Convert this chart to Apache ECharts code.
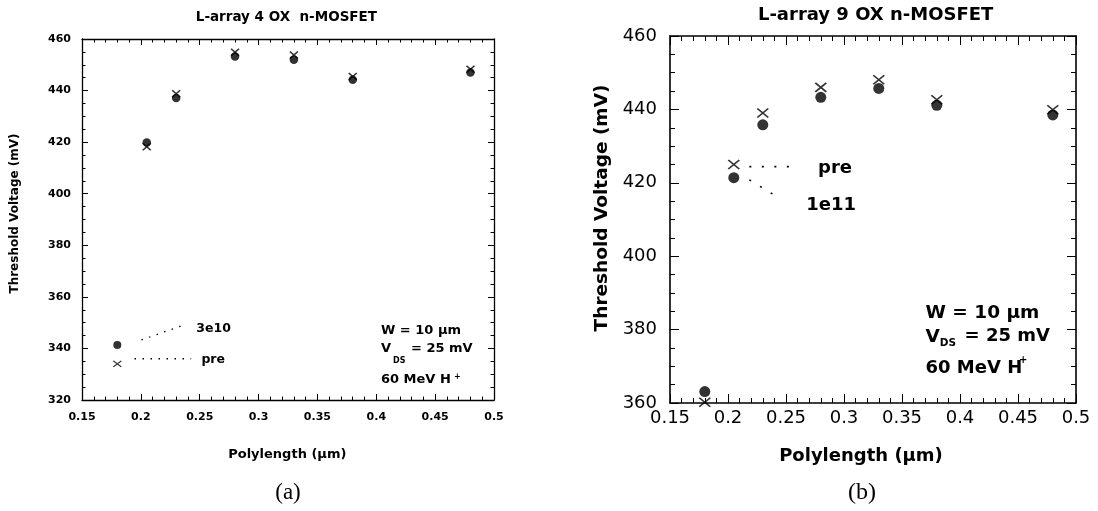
<!DOCTYPE html>
<html>
<head>
<meta charset="utf-8">
<script src="https://cdn.jsdelivr.net/npm/echarts@6/dist/echarts.min.js"></script>
<style>html,body{margin:0;padding:0;background:#fff;}#c{width:1098px;height:511px;}</style>
</head>
<body>
<div id="c"></div>
<script>
// ---- data ----
const xTicks = [0.15, 0.2, 0.25, 0.3, 0.35, 0.4, 0.45, 0.5];
const leftYTicks = [320, 340, 360, 380, 400, 420, 440, 460];
const rightYTicks = [360, 380, 400, 420, 440, 460];

const leftX = [0.205, 0.23, 0.28, 0.33, 0.38, 0.48];
const leftPre = [418.2, 438.8, 454.9, 453.8, 445.5, 448.3];
const left3e10 = [419.9, 437.1, 453.2, 452.0, 444.2, 447.0];
// legend markers drawn inside the left plot
const leftLegendDot = [[0.18, 341.3]];
const leftLegendCross = [[0.18, 334.0]];
const leftLead3e10 = [[0.2005, 343.3], [0.234, 348.7]];
const leftLeadPre = [[0.1946, 336.0], [0.2427, 336.0]];

const rightX = [0.18, 0.205, 0.23, 0.28, 0.33, 0.38, 0.48];
const rightPre = [360.2, 425.0, 439.0, 446.0, 448.1, 442.6, 439.9];
const right1e11 = [363.1, 421.4, 435.8, 443.3, 445.7, 441.1, 438.5];
const rightLeadPre = [[0.2184, 424.4], [0.2614, 424.4]];
const rightLead1e11 = [[0.2184, 420.8], [0.2398, 416.7]];

const zip = (xs, ys) => xs.map((x, i) => [x, ys[i]]);

const CROSS = 'path://M0,0L10,10M10,0L0,10';
const DV = '"DejaVu Sans", sans-serif';

const chart = echarts.init(document.getElementById('c'), null, {renderer: 'canvas'});

function axisPair(gridIndex, type, min, max, interval, split, lblStyle, majLen, minLen, lw) {
  const base = {
    type: 'value', gridIndex, min, max, interval, scale: false,
    splitLine: {show: false},
    axisLine: {show: true, onZero: false, lineStyle: {color: '#000', width: lw}},
    axisTick: {show: true, inside: true, length: majLen, lineStyle: {color: '#000', width: 1}},
    minorTick: {show: true, splitNumber: split, length: minLen, lineStyle: {color: '#000', width: 1}},
  };
  const a = Object.assign({}, base, {
    position: type === 'x' ? 'bottom' : 'left',
    axisLabel: Object.assign({show: true, color: '#000', showMinLabel: true, showMaxLabel: true}, lblStyle)
  });
  const b = Object.assign({}, base, {
    position: type === 'x' ? 'top' : 'right',
    axisLabel: {show: false}
  });
  return [a, b];
}

const lx = axisPair(0, 'x', 0.15, 0.5, 0.05, 5, {fontFamily: DV, fontWeight: 'bold', fontSize: 11, margin: 12}, 6, 3.5, 1.3);
const ly = axisPair(0, 'y', 320, 460, 20, 4, {fontFamily: DV, fontWeight: 'bold', fontSize: 11, margin: 11}, 6, 3.5, 1.3);
const rx = axisPair(1, 'x', 0.15, 0.5, 0.05, 5, {fontFamily: DV, fontSize: 18, margin: 6}, 9, 5, 1.6);
const ry = axisPair(1, 'y', 360, 460, 20, 4, {fontFamily: DV, fontSize: 18, margin: 13}, 9, 5, 1.6);

function txt(x, y, text, size, opts) {
  opts = opts || {};
  return {
    type: 'text', x, y, rotation: opts.rotation || 0, silent: true, z: 100,
    style: {
      text, fill: '#000',
      font: (opts.weight || 'bold') + ' ' + size + 'px ' + (opts.family || DV),
      textAlign: opts.align || 'left', align: opts.align || 'left',
      textVerticalAlign: 'middle', verticalAlign: 'middle'
    }
  };
}

const dotStyleL = {color: '#000'};
const crossStyle = {color: 'none', borderColor: '#000', borderWidth: 1.5};

const option = {
  animation: false,
  backgroundColor: '#fff',
  grid: [
    {left: 82, top: 39, width: 412, height: 361, containLabel: false, outerBoundsMode: 'none'},
    {left: 670, top: 36, width: 406, height: 367, containLabel: false, outerBoundsMode: 'none'}
  ],
  xAxis: [lx[0], lx[1], rx[0], rx[1]],
  yAxis: [ly[0], ly[1], ry[0], ry[1]],
  series: [
    // left panel
    {type: 'scatter', xAxisIndex: 0, yAxisIndex: 0, data: zip(leftX, left3e10), symbol: 'circle', symbolSize: 8.5, itemStyle: dotStyleL},
    {type: 'scatter', xAxisIndex: 0, yAxisIndex: 0, data: zip(leftX, leftPre), symbol: CROSS, symbolSize: [8, 7], itemStyle: crossStyle},
    {type: 'scatter', xAxisIndex: 0, yAxisIndex: 0, data: leftLegendDot, symbol: 'circle', symbolSize: 8, itemStyle: dotStyleL},
    {type: 'scatter', xAxisIndex: 0, yAxisIndex: 0, data: leftLegendCross, symbol: CROSS, symbolSize: [8, 6], itemStyle: {color: 'none', borderColor: '#000', borderWidth: 1.2}},
    {type: 'line', xAxisIndex: 0, yAxisIndex: 0, data: leftLead3e10, symbol: 'none', lineStyle: {color: '#000', width: 1.3, type: [1.5, 6.5]}},
    {type: 'line', xAxisIndex: 0, yAxisIndex: 0, data: leftLeadPre, symbol: 'none', lineStyle: {color: '#000', width: 1.3, type: [1.5, 6.5]}},
    // right panel
    {type: 'scatter', xAxisIndex: 2, yAxisIndex: 2, data: zip(rightX, right1e11), symbol: 'circle', symbolSize: 11, itemStyle: {color: '#000'}},
    {type: 'scatter', xAxisIndex: 2, yAxisIndex: 2, data: zip(rightX, rightPre), symbol: CROSS, symbolSize: [11, 9], itemStyle: {color: 'none', borderColor: '#000', borderWidth: 1.6}},
    {type: 'line', xAxisIndex: 2, yAxisIndex: 2, data: rightLeadPre, symbol: 'none', lineStyle: {color: '#000', width: 1.6, type: [2, 10.5]}},
    {type: 'line', xAxisIndex: 2, yAxisIndex: 2, data: rightLead1e11, symbol: 'none', lineStyle: {color: '#000', width: 1.6, type: [2, 10.5]}}
  ],
  graphic: [
    // left panel texts
    txt(286.4, 17, 'L-array 4 OX  n-MOSFET', 13.5, {align: 'center'}),
    txt(15, 213.5, 'Threshold Voltage (mV)', 12, {align: 'center', rotation: Math.PI / 2}),
    txt(287.3, 455, 'Polylength (\u00b5m)', 13, {align: 'center'}),
    txt(288, 493, '(a)', 23, {align: 'center', weight: 'normal', family: '"Liberation Serif", "DejaVu Serif", serif'}),
    txt(196.3, 329, '3e10', 12.5),
    txt(201.4, 360, 'pre', 12.5),
    txt(381, 331, 'W = 10 \u00b5m', 13),
    txt(381, 349, 'V', 13),
    txt(393, 361, 'DS', 8),
    txt(411, 349, '= 25 mV', 13),
    txt(381, 379.3, '60 MeV H', 13),
    txt(454, 376.5, '+', 8),
    // right panel texts
    txt(875.6, 15, 'L-array 9 OX n-MOSFET', 18, {align: 'center'}),
    txt(602.5, 208, 'Threshold Voltage (mV)', 18.5, {align: 'center', rotation: Math.PI / 2}),
    txt(861, 456.7, 'Polylength (\u00b5m)', 18, {align: 'center'}),
    txt(862, 493, '(b)', 24, {align: 'center', weight: 'normal', family: '"Liberation Serif", "DejaVu Serif", serif'}),
    txt(818, 168.3, 'pre', 18),
    txt(806.3, 205, '1e11', 18),
    txt(925.5, 313.3, 'W = 10 \u00b5m', 18.5),
    txt(925.5, 336.7, 'V', 18.5),
    txt(939.7, 343.5, 'DS', 10.5),
    txt(964.6, 336.7, '= 25 mV', 18),
    txt(925.5, 368.3, '60 MeV H', 18),
    txt(1019, 360, '+', 10)
  ]
};
chart.setOption(option);
</script>
</body>
</html>
